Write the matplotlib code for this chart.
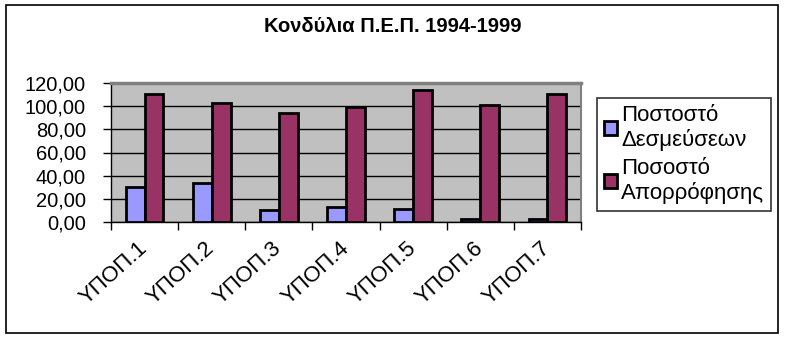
import numpy as np
import matplotlib.pyplot as plt
from matplotlib.patches import Rectangle
from matplotlib.ticker import FuncFormatter

plt.rcParams['font.family'] = ['Liberation Sans', 'DejaVu Sans']

# Δεδομένα
kathgories = ['ΥΠΟΠ.1', 'ΥΠΟΠ.2', 'ΥΠΟΠ.3', 'ΥΠΟΠ.4', 'ΥΠΟΠ.5', 'ΥΠΟΠ.6', 'ΥΠΟΠ.7']
desmeyseis = [30.0, 33.7, 10.0, 12.7, 11.5, 3.0, 2.3]
aporrofisi = [110.2, 103.0, 94.4, 99.0, 114.0, 100.7, 110.2]
onomata = ['Ποστοστό\nΔεσμεύσεων', 'Ποσοστό\nΑπορρόφησης']
y_ticks = [0, 20, 40, 60, 80, 100, 120]

W, H = 786, 338
fig = plt.figure(figsize=(W / 100, H / 100), dpi=100)

# Πλαίσιο γύρω από το γράφημα
fig.patches.append(Rectangle((6 / W, 5 / H), 772 / W, 328 / H, transform=fig.transFigure,
                             fill=False, edgecolor='black', linewidth=1.2))

ax = fig.add_axes([111 / W, (H - 222) / H, 470 / W, 139 / H])
ax.set_facecolor('#C0C0C0')

x = np.arange(len(kathgories))
w = 0.28
b1 = ax.bar(x - w / 2, desmeyseis, w, color='#9999FF', edgecolor='black', linewidth=2.0,
            label=onomata[0], zorder=3)
b2 = ax.bar(x + w / 2, aporrofisi, w, color='#993366', edgecolor='black', linewidth=2.0,
            label=onomata[1], zorder=3)

ax.set_xlim(-0.5, len(kathgories) - 0.5)
ax.set_ylim(0, 120)
ax.set_yticks(y_ticks)
ax.yaxis.set_major_formatter(FuncFormatter(lambda v, p: f'{v:.2f}'.replace('.', ',')))
ax.grid(axis='y', color='black', linewidth=1.0, zorder=1)
ax.set_axisbelow(True)

# Υποδιαιρέσεις στα όρια των κατηγοριών, ετικέτες στο κέντρο
ax.set_xticks(np.arange(len(kathgories) + 1) - 0.5)
ax.set_xticklabels([])
ax.set_xticks(x, minor=True)
ax.set_xticklabels(kathgories, minor=True, rotation=42, ha='right', va='center',
                   rotation_mode='anchor', fontsize=16)
ax.tick_params(axis='x', which='major', direction='out', length=6, width=1)
ax.tick_params(axis='x', which='minor', length=0, pad=17)
ax.tick_params(axis='y', direction='out', length=6, width=1, labelsize=14.5, pad=12)

ax.spines['top'].set_color('#808080')
ax.spines['top'].set_linewidth(2.5)
ax.spines['right'].set_color('#808080')
ax.spines['right'].set_linewidth(1.5)
ax.spines['left'].set_linewidth(1.0)
ax.spines['bottom'].set_linewidth(1.0)

fig.text(393 / W, (H - 27) / H, 'Κονδύλια Π.Ε.Π. 1994-1999', ha='center', va='center',
         fontsize=14.5, fontweight='bold')

leg = fig.legend(handles=[b1, b2], loc='upper left', bbox_to_anchor=(597 / W, (H - 98) / H),
                 fontsize=16, frameon=True, fancybox=False, edgecolor='black',
                 handlelength=0.6, handleheight=0.6, handletextpad=0.2, borderpad=0.3,
                 labelspacing=0.3, borderaxespad=0)
leg.get_frame().set_linewidth(1.2)

fig.savefig('out.png', dpi=100)
